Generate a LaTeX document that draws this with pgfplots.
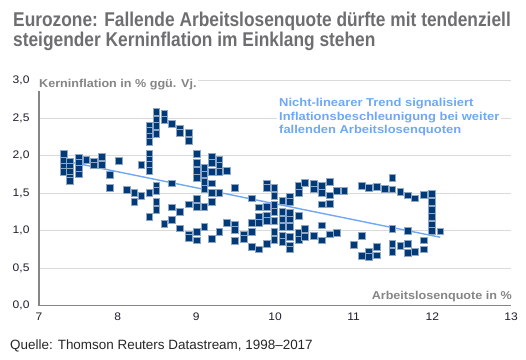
\documentclass[border=0pt]{standalone}
\usepackage{fontspec}
\setmainfont{Liberation Sans}
\newfontfamily\titlefont[FakeStretch=0.87]{Liberation Sans}
\newfontfamily\labfont[FakeStretch=1.1]{Liberation Sans}
\newfontfamily\annfont[FakeStretch=1.13]{Liberation Sans}
\usepackage{pgfplots}
\usepackage{pgfplotstable}
\pgfplotsset{compat=1.18}
\definecolor{navy}{HTML}{003A78}
\definecolor{navyedge}{HTML}{8FA6C4}
\definecolor{trend}{HTML}{6FA8F5}
\definecolor{titlegrey}{HTML}{6E6E70}
\definecolor{labgrey}{HTML}{858585}
\definecolor{gridgrey}{HTML}{DADADA}
\definecolor{ticktext}{HTML}{1E1E2E}

\pgfplotstableread{
x y
7.31 2.02
7.31 1.93
7.31 1.85
7.31 1.78
7.39 1.92
7.39 1.85
7.39 1.78
7.39 1.71
7.39 1.66
7.50 1.97
7.50 1.90
7.50 1.83
7.50 1.75
7.60 1.94
7.70 1.92
7.70 1.87
7.80 1.98
7.80 1.88
7.90 1.74
7.90 1.57
8.01 1.93
8.11 1.54
8.21 1.50
8.21 1.38
8.30 1.46
8.30 1.88
8.40 2.40
8.40 2.33
8.40 2.25
8.40 2.18
8.40 2.02
8.40 1.95
8.40 1.88
8.40 1.80
8.40 1.50
8.40 1.18
8.49 2.58
8.49 2.48
8.49 2.40
8.49 2.29
8.49 1.60
8.49 1.53
8.49 1.38
8.49 1.28
8.59 2.56
8.59 2.48
8.59 1.09
8.69 2.42
8.69 1.63
8.69 1.31
8.69 1.14
8.79 2.36
8.79 2.30
8.79 1.25
8.79 1.03
8.90 2.30
8.90 2.20
8.90 1.35
8.90 0.95
8.90 0.90
9.00 2.02
9.00 1.90
9.00 1.80
9.00 1.70
9.00 1.42
9.00 1.32
9.00 0.98
9.00 0.87
9.10 1.84
9.10 1.75
9.10 1.65
9.10 1.56
9.10 1.32
9.10 1.05
9.20 1.98
9.20 1.90
9.20 1.78
9.20 1.63
9.20 1.50
9.20 1.38
9.20 0.89
9.29 1.95
9.29 1.86
9.29 1.78
9.29 1.50
9.29 0.98
9.39 1.80
9.39 1.10
9.49 1.57
9.49 1.08
9.49 1.01
9.49 0.86
9.60 0.95
9.60 0.89
9.70 1.43
9.70 1.10
9.70 0.98
9.70 0.78
9.79 1.31
9.79 1.18
9.79 1.10
9.79 0.75
9.89 1.62
9.89 1.57
9.89 1.32
9.89 1.20
9.89 1.13
9.89 0.82
9.99 1.57
9.99 1.46
9.99 1.34
9.99 1.25
9.99 1.13
9.99 0.98
9.99 0.88
10.09 1.40
10.09 1.25
10.09 1.15
10.09 1.05
10.09 0.93
10.09 0.85
10.19 1.45
10.19 1.38
10.19 1.24
10.19 1.15
10.19 1.05
10.19 0.92
10.19 0.80
10.19 0.75
10.30 1.60
10.30 1.50
10.30 1.20
10.30 0.97
10.30 0.88
10.38 1.64
10.38 1.02
10.38 0.92
10.49 1.62
10.49 1.55
10.49 0.93
10.59 1.60
10.59 1.50
10.59 1.35
10.59 1.07
10.59 0.87
10.69 1.65
10.69 1.47
10.69 1.36
10.69 0.95
10.78 1.53
10.78 0.97
10.88 1.53
11.00 0.81
11.10 1.60
11.10 0.93
11.10 0.66
11.19 1.57
11.19 0.72
11.19 0.65
11.29 1.58
11.29 0.78
11.29 0.67
11.39 1.56
11.49 1.70
11.49 1.55
11.49 1.02
11.49 0.82
11.49 0.72
11.59 1.52
11.59 0.80
11.69 1.47
11.69 1.00
11.69 0.82
11.69 0.70
11.78 1.43
11.78 0.72
11.89 1.48
11.89 0.87
11.89 0.75
11.99 1.49
11.99 1.38
11.99 1.28
11.99 1.18
11.99 1.08
11.99 1.00
12.10 0.99
}\datatable

\begin{document}
\begin{tikzpicture}[x=1bp,y=1bp]
\useasboundingbox (0,0) rectangle (526,359);
\begin{axis}[
  at={(39bp,53.5bp)}, anchor=south west,
  scale only axis, width=472bp, height=225bp,
  xmin=7, xmax=13, ymin=0, ymax=3,
  xtick={7,8,...,13}, ytick={0,0.5,...,3},
  axis lines*=left,
  axis line style={labgrey, line width=1.6bp},
  major tick length=0pt,
  ymajorgrids, grid style={gridgrey, line width=0.9bp},
  clip=false,
  /pgf/number format/assume math mode=true,
  yticklabel style={/pgf/number format/fixed, /pgf/number format/fixed zerofill, /pgf/number format/precision=1, /pgf/number format/use comma, xshift=-6bp},
  ticklabel style={font=\fontsize{11}{13}\labfont, text=ticktext},
  xticklabel style={yshift=-4bp},
]
\addplot[only marks, mark=square*, mark size=3.4bp,
  mark options={fill=navy, draw=navyedge, line width=0.35bp}] table[x=x,y=y] {\datatable};
\addplot[trend, line width=1.4bp, smooth] coordinates {(7.27,1.94) (9.7,1.42) (12.1,0.91)};
\end{axis}
% axis labels
\node[anchor=west, fill=white, inner sep=1bp, text=labgrey, font=\fontsize{11.5}{13}\labfont\bfseries] at (38,274) {Kerninflation in \% ggü. Vj.};
\node[anchor=base east, inner sep=0pt, text=labgrey, font=\fontsize{11.5}{13}\labfont\bfseries] at (512,59.5) {Arbeitslosenquote in \%};
% annotation
\begin{scope}[every node/.style={anchor=base west, inner xsep=2bp, inner ysep=0pt, fill=white, text=trend, font=\fontsize{11.5}{13}\annfont\bfseries}]
\node at (277,252.3) {Nicht-linearer Trend signalisiert};
\node at (277,239) {Inflationsbeschleunigung bei weiter};
\node at (277,225.7) {fallenden Arbeitslosenquoten};
\end{scope}
% title
\node[anchor=base west, inner sep=0pt, text=titlegrey, font=\fontsize{20}{24}\titlefont\bfseries] at (13,332.3) {Eurozone: Fallende Arbeitslosenquote dürfte mit tendenziell};
\node[anchor=base west, inner sep=0pt, text=titlegrey, font=\fontsize{20}{24}\titlefont\bfseries] at (13,313) {steigender Kerninflation im Einklang stehen};
% source
\node[anchor=base west, inner sep=0pt, text=black!85, font=\fontsize{13.5}{15}\selectfont] at (10,10) {Quelle: Thomson Reuters Datastream, 1998–2017};
\end{tikzpicture}
\end{document}
